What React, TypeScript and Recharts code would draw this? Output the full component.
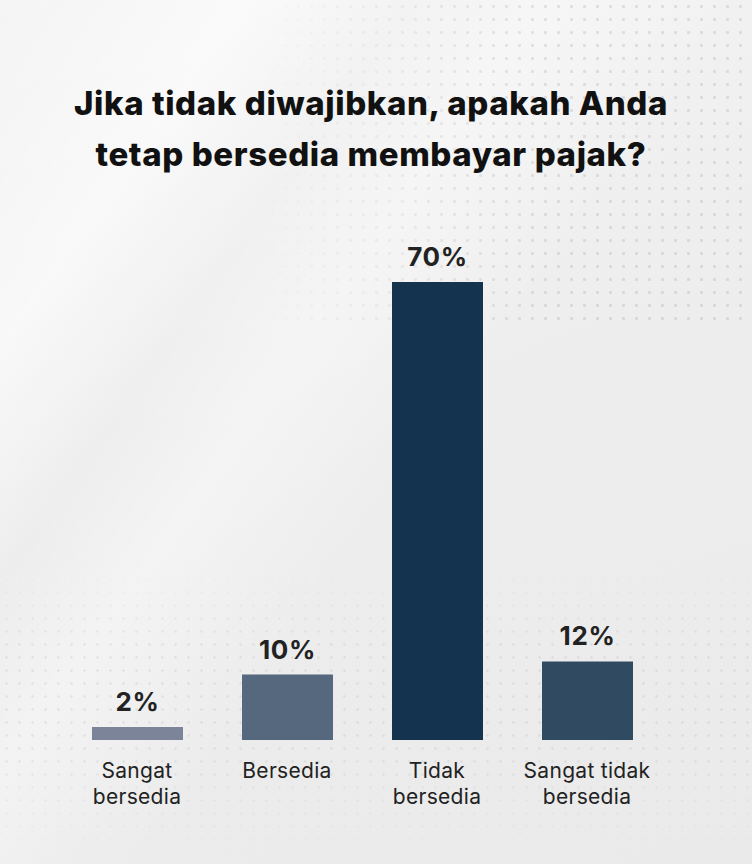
import React from "react";
import { BarChart, Bar, XAxis, YAxis, Cell, LabelList } from "recharts";

const categories = ["Sangat bersedia", "Bersedia", "Tidak bersedia", "Sangat tidak bersedia"];
const tickLines = [["Sangat", "bersedia"], ["Bersedia"], ["Tidak", "bersedia"], ["Sangat tidak", "bersedia"]];
const values = [2, 10, 70, 12];
const barColors = ["#7b8498", "#56687d", "#14334f", "#304a61"];
const titleLines = ["Jika tidak diwajibkan, apakah Anda", "tetap bersedia membayar pajak?"];

const data = categories.map((c, i) => ({ name: c, value: values[i] }));

const FONT = "Inter, 'Open Sans', sans-serif";

const Tick = (props: any) => {
  const { x, y, index } = props;
  const lines = tickLines[index] || [];
  return (
    <g>
      {lines.map((l, i) => (
        <text
          key={i}
          x={x}
          y={y + 30 + i * 26}
          textAnchor="middle"
          fontFamily={FONT}
          fontSize={21}
          letterSpacing={0.3}
          fill="#222"
        >
          {l}
        </text>
      ))}
    </g>
  );
};

const ValueLabel = (props: any) => {
  const { x, y, width, value } = props;
  return (
    <text
      x={x + width / 2}
      y={y - 16}
      textAnchor="middle"
      fontFamily={FONT}
      fontWeight={700}
      fontSize={26}
      letterSpacing={0.6}
      fill="#222"
    >
      {value}%
    </text>
  );
};

export default function App() {
  return (
    <div
      style={{
        position: "absolute",
        left: 0,
        top: 0,
        width: 752,
        height: 864,
        overflow: "hidden",
        background: "linear-gradient(160deg, #f5f5f5 0%, #eeeeee 45%, #eaeaea 100%)",
      }}
    >
      <div
        style={{
          position: "absolute",
          left: 0,
          top: 0,
          width: 752,
          height: 864,
          background:
            "linear-gradient(125deg, rgba(255,255,255,0.0) 0%, rgba(255,255,255,0.55) 18%, rgba(255,255,255,0) 30%, rgba(255,255,255,0.35) 40%, rgba(255,255,255,0) 55%)",
        }}
      />
      <div
        style={{
          position: "absolute",
          left: 240,
          top: 0,
          width: 512,
          height: 330,
          backgroundImage: "radial-gradient(circle, rgba(0,0,0,0.09) 1.3px, transparent 1.8px)",
          backgroundSize: "13px 13px",
          WebkitMaskImage: "linear-gradient(90deg, transparent 0%, black 60%)",
          maskImage: "linear-gradient(90deg, transparent 0%, black 60%)",
        }}
      />
      <div
        style={{
          position: "absolute",
          left: 0,
          top: 560,
          width: 752,
          height: 304,
          backgroundImage: "radial-gradient(circle, rgba(0,0,0,0.06) 1px, transparent 1.5px)",
          backgroundSize: "13px 13px",
          WebkitMaskImage: "linear-gradient(0deg, transparent 0%, black 40%, black 70%, transparent 100%)",
          maskImage: "linear-gradient(0deg, transparent 0%, black 40%, black 70%, transparent 100%)",
        }}
      />
      <div
        style={{
          position: "absolute",
          left: 0,
          top: 78,
          width: 742,
          textAlign: "center",
          fontFamily: FONT,
          fontWeight: 800,
          fontSize: 33,
          letterSpacing: 0.6,
          lineHeight: "51px",
          color: "#111",
        }}
      >
        {titleLines.map((t, i) => (
          <div key={i}>{t}</div>
        ))}
      </div>
      <div style={{ position: "absolute", left: 0, top: 0 }}>
        <BarChart
          width={752}
          height={864}
          data={data}
          margin={{ top: 282, right: 90, bottom: 123, left: 62 }}
        >
          <XAxis
            dataKey="name"
            axisLine={false}
            tickLine={false}
            interval={0}
            tick={<Tick />}
            height={1}
          />
          <YAxis hide domain={[0, 70]} />
          <Bar dataKey="value" barSize={91} isAnimationActive={false}>
            {data.map((d, i) => (
              <Cell key={i} fill={barColors[i]} />
            ))}
            <LabelList dataKey="value" content={<ValueLabel />} />
          </Bar>
        </BarChart>
      </div>
    </div>
  );
}
